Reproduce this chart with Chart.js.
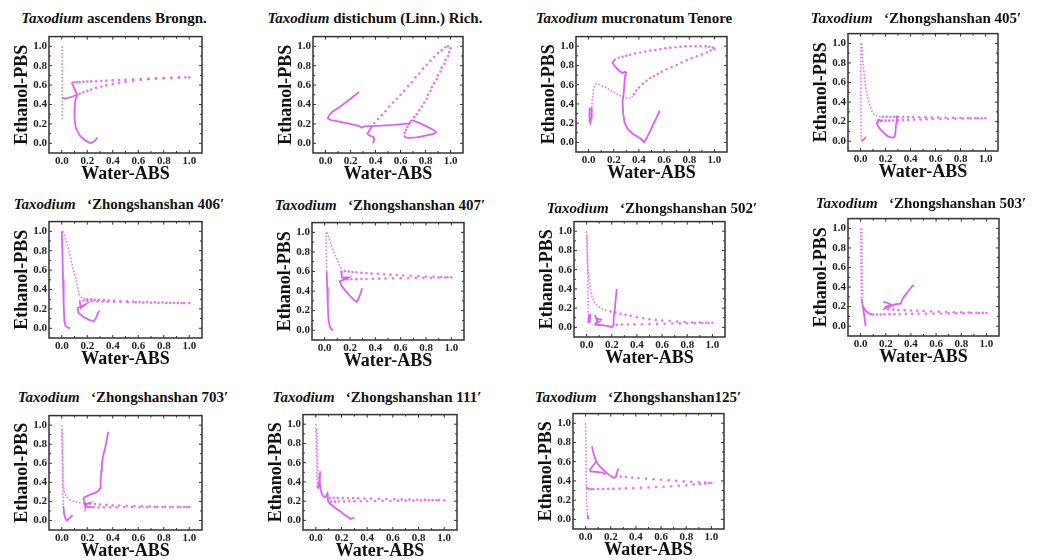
<!DOCTYPE html>
<html>
<head>
<meta charset="utf-8">
<script src="https://cdn.jsdelivr.net/npm/chart.js@4"></script>
<style>
  body { margin: 0; background: #fff; width: 1041px; height: 560px; position: relative; overflow: hidden; }
  .ttl { position: absolute; font: bold 15px 'Liberation Serif', serif; white-space: nowrap; color: #111; line-height: 16px; transform: translateX(-50%); }
  .ttl i { font-style: italic; }
</style>
</head>
<body>
<script>
// tick labels, both axes
const tickVals = [0.0, 0.2, 0.4, 0.6, 0.8, 1.0];
const minorVals = [0.1, 0.3, 0.5, 0.7, 0.9];

const titles = [
  ['Taxodium', ' ascendens Brongn.'],
  ['Taxodium', ' distichum (Linn.) Rich.'],
  ['Taxodium', ' mucronatum Tenore'],
  ['Taxodium', '\u2002 \u2018Zhongshanshan 405\u2032'],
  ['Taxodium', '\u2002 \u2018Zhongshanshan 406\u2032'],
  ['Taxodium', '\u2002 \u2018Zhongshanshan 407\u2032'],
  ['Taxodium', '\u2002 \u2018Zhongshanshan 502\u2032'],
  ['Taxodium', '\u2002 \u2018Zhongshanshan 503\u2032'],
  ['Taxodium', '\u2002 \u2018Zhongshanshan 703\u2032'],
  ['Taxodium', '\u2002 \u2018Zhongshanshan 111\u2032'],
  ['Taxodium', '\u2002 \u2018Zhongshanshan125\u2032']
];

// T. ascendens
const ascSolid = [
  [[0.005,0.47],[0.03,0.46],[0.08,0.48],[0.12,0.50],[0.10,0.56],[0.08,0.62],[0.09,0.63]],
  [[0.12,0.50],[0.105,0.43],[0.10,0.34],[0.10,0.26],[0.11,0.16],[0.14,0.08],[0.19,0.025],[0.23,0.0],[0.26,0.025],[0.28,0.06]]
];
const ascDotted = [[[0.003,1.0],[0.003,0.24]]];
const ascDots = [[0.10,0.63],[0.12,0.63],[0.14,0.632],[0.17,0.634],[0.20,0.636],[0.23,0.638],[0.27,0.64],[0.31,0.643],[0.35,0.646],[0.40,0.65],[0.45,0.653],[0.50,0.656],[0.56,0.66],[0.62,0.663],[0.68,0.667],[0.74,0.67],[0.80,0.673],[0.86,0.676],[0.92,0.678],[0.97,0.68],[1.0,0.68],
  [0.14,0.51],[0.17,0.525],[0.20,0.54],[0.23,0.555],[0.27,0.57],[0.31,0.585],[0.35,0.597],[0.40,0.61],[0.45,0.622],[0.50,0.633],[0.56,0.643],[0.62,0.652],[0.68,0.66],[0.74,0.666],[0.80,0.671],[0.86,0.675],[0.92,0.678]];

// T. distichum
const disSolid = [
  [[0.27,0.53],[0.20,0.46],[0.12,0.38],[0.05,0.32],[0.025,0.28],[0.018,0.26],[0.04,0.24],[0.10,0.225],[0.18,0.205],[0.265,0.18],[0.29,0.16],[0.31,0.175],[0.36,0.178],[0.45,0.182],[0.55,0.19],[0.63,0.2],[0.67,0.205],[0.69,0.24]],
  [[0.69,0.24],[0.74,0.215],[0.80,0.18],[0.86,0.14],[0.885,0.115],[0.87,0.10],[0.80,0.08],[0.73,0.062],[0.67,0.055],[0.64,0.06],[0.63,0.08]],
  [[0.37,0.17],[0.35,0.13],[0.335,0.10],[0.35,0.08],[0.385,0.065],[0.39,0.04],[0.38,0.0]]
];
const disDotted = [];
const disDots = [[0.39,0.21],[0.42,0.25],[0.45,0.29],[0.48,0.33],[0.51,0.38],[0.54,0.42],[0.57,0.46],[0.60,0.50],[0.63,0.54],[0.66,0.59],[0.69,0.63],[0.72,0.68],[0.75,0.72],[0.78,0.77],[0.81,0.81],[0.84,0.85],[0.87,0.89],[0.90,0.93],[0.93,0.96],[0.96,0.99],[0.98,1.0],
  [1.0,0.98],[0.99,0.94],[0.98,0.90],[0.96,0.86],[0.95,0.82],[0.93,0.78],[0.92,0.74],[0.90,0.70],[0.89,0.66],[0.87,0.62],[0.85,0.58],[0.84,0.54],[0.82,0.50],[0.81,0.46],[0.79,0.42],[0.77,0.38],[0.75,0.34],[0.73,0.30],[0.71,0.27],
  [0.635,0.11],[0.645,0.14],[0.655,0.17],[0.67,0.20]];

// T. mucronatum
const mucSolid = [
  [[0.01,0.36],[0.005,0.30],[0.01,0.22],[0.015,0.20],[0.02,0.25],[0.025,0.36]],
  [[0.215,0.87],[0.19,0.83],[0.21,0.79],[0.24,0.75],[0.27,0.72],[0.29,0.735],[0.30,0.72],[0.29,0.69],[0.285,0.62],[0.28,0.52],[0.27,0.42],[0.275,0.30],[0.285,0.21],[0.31,0.14],[0.35,0.09],[0.40,0.05],[0.43,0.02],[0.44,0.0],[0.45,0.02],[0.48,0.09],[0.51,0.18],[0.545,0.27],[0.565,0.33]]
];
const mucDotted = [
  [[0.025,0.36],[0.03,0.45],[0.04,0.56],[0.06,0.61],[0.09,0.60],[0.14,0.57],[0.19,0.53],[0.24,0.49],[0.29,0.465],[0.32,0.455],[0.34,0.46],[0.35,0.48]]
];
const mucDots = [[0.36,0.50],[0.38,0.54],[0.40,0.57],[0.43,0.61],[0.46,0.64],[0.49,0.67],[0.52,0.69],[0.55,0.71],[0.58,0.735],[0.62,0.76],[0.66,0.78],[0.70,0.805],[0.74,0.83],[0.78,0.855],[0.82,0.875],[0.86,0.895],[0.90,0.915],[0.94,0.935],[0.97,0.955],[1.0,0.97],
  [0.99,0.985],[0.96,0.995],[0.93,1.0],[0.89,1.0],[0.85,1.0],[0.81,1.0],[0.77,1.0],[0.73,0.995],[0.69,0.99],[0.65,0.985],[0.61,0.98],[0.57,0.97],[0.53,0.96],[0.49,0.955],[0.45,0.945],[0.41,0.935],[0.37,0.925],[0.33,0.91],[0.30,0.90],[0.27,0.89],[0.24,0.88]];

// Zhongshanshan 405
const z405Solid = [
  [[0.008,0.0],[0.02,0.01],[0.045,0.045]],
  [[0.15,0.20],[0.13,0.19],[0.135,0.16],[0.16,0.12],[0.19,0.08],[0.22,0.05],[0.26,0.035],[0.275,0.05],[0.28,0.1],[0.285,0.18],[0.29,0.26]],
  [[0.13,0.21],[0.15,0.22],[0.17,0.2]]
];
const z405Dotted = [
  [[0.003,1.0],[0.003,0.5],[0.005,0.1],[0.008,0.0]],
  [[0.01,1.0],[0.02,0.8],[0.035,0.62],[0.05,0.50],[0.065,0.41],[0.085,0.32],[0.11,0.27],[0.14,0.255],[0.16,0.25]]
];
const z405Dots = [[0.18,0.25],[0.21,0.25],[0.24,0.25],[0.27,0.25],[0.30,0.25],[0.34,0.248],[0.38,0.247],[0.42,0.246],[0.47,0.245],[0.52,0.244],[0.57,0.243],[0.62,0.242],[0.68,0.24],[0.74,0.239],[0.80,0.238],[0.86,0.237],[0.92,0.236],[0.97,0.235],
  [0.17,0.21],[0.20,0.21],[0.23,0.21],[0.26,0.212],[0.30,0.214],[0.34,0.216],[0.38,0.218],[0.43,0.22],[0.48,0.222],[0.53,0.224],[0.58,0.226],[0.64,0.228],[0.70,0.23],[0.76,0.231],[0.82,0.232],[0.88,0.233],[0.94,0.234],[1.0,0.235]];

// Zhongshanshan 406
const z406Solid = [
  [[0.0,1.0],[0.005,0.8],[0.01,0.5],[0.015,0.25],[0.02,0.08],[0.03,0.025],[0.045,0.008],[0.065,0.0]],
  [[0.14,0.29],[0.15,0.21],[0.19,0.25],[0.125,0.21],[0.13,0.16],[0.17,0.12],[0.21,0.09],[0.25,0.07],[0.27,0.11],[0.285,0.16],[0.295,0.18]]
];
const z406Dotted = [
  [[0.01,1.0],[0.04,0.88],[0.065,0.75],[0.09,0.61],[0.115,0.49],[0.13,0.39],[0.14,0.34],[0.16,0.31],[0.19,0.305]]
];
const z406Dots = [[0.20,0.30],[0.23,0.298],[0.26,0.295],[0.29,0.293],[0.33,0.29],[0.37,0.287],[0.41,0.284],[0.46,0.281],[0.51,0.278],[0.56,0.275],[0.61,0.272],[0.67,0.27],[0.73,0.268],[0.79,0.266],[0.85,0.264],[0.91,0.262],[0.96,0.261],[1.0,0.26],
  [0.17,0.285],[0.20,0.283],[0.24,0.281],[0.28,0.279],[0.32,0.277],[0.36,0.275],[0.41,0.273],[0.46,0.271],[0.52,0.269],[0.58,0.267],[0.64,0.265],[0.70,0.264],[0.76,0.263],[0.82,0.262],[0.88,0.261],[0.94,0.26]];

// Zhongshanshan 407
const z407Solid = [
  [[0.016,0.6],[0.02,0.44],[0.025,0.25],[0.03,0.11],[0.04,0.04],[0.05,0.015],[0.066,0.0]],
  [[0.13,0.61],[0.135,0.54],[0.19,0.54],[0.12,0.50],[0.13,0.46],[0.16,0.41],[0.2,0.35],[0.23,0.31],[0.255,0.29],[0.27,0.33],[0.285,0.38],[0.295,0.43]]
];
const z407Dotted = [
  [[0.02,1.0],[0.045,0.9],[0.07,0.8],[0.10,0.72],[0.12,0.65],[0.14,0.615]],
  [[0.01,1.0],[0.012,0.8],[0.016,0.6]]
];
const z407Dots = [[0.16,0.605],[0.19,0.60],[0.22,0.595],[0.25,0.592],[0.29,0.588],[0.33,0.584],[0.37,0.58],[0.42,0.576],[0.47,0.572],[0.52,0.568],[0.57,0.564],[0.62,0.56],[0.68,0.556],[0.74,0.552],[0.80,0.549],[0.86,0.546],[0.92,0.543],[0.97,0.541],[1.0,0.54],
  [0.15,0.52],[0.18,0.52],[0.21,0.521],[0.25,0.522],[0.29,0.523],[0.33,0.524],[0.38,0.525],[0.43,0.527],[0.48,0.528],[0.54,0.53],[0.60,0.532],[0.66,0.534],[0.72,0.535],[0.78,0.536],[0.84,0.537],[0.90,0.538],[0.95,0.539]];

// Zhongshanshan 502
const z502Solid = [
  [[0.015,0.04],[0.02,0.13],[0.025,0.05],[0.03,0.14]],
  [[0.065,0.13],[0.075,0.10],[0.085,0.05],[0.10,0.06],[0.115,0.08],[0.09,0.09],[0.07,0.03]],
  [[0.06,0.028],[0.10,0.025],[0.14,0.02],[0.18,0.01],[0.20,0.0],[0.21,0.02],[0.215,0.1],[0.225,0.2],[0.232,0.3],[0.24,0.4]]
];
const z502Dotted = [
  [[0.0,1.0],[0.003,0.85],[0.006,0.70],[0.01,0.6],[0.02,0.5],[0.03,0.4],[0.045,0.31],[0.065,0.255],[0.09,0.22],[0.12,0.195],[0.16,0.175]],
  [[0.005,0.95],[0.008,0.7],[0.01,0.45],[0.012,0.2],[0.015,0.05]]
];
const z502Dots = [[0.19,0.165],[0.23,0.155],[0.27,0.14],[0.31,0.13],[0.35,0.12],[0.40,0.105],[0.45,0.095],[0.50,0.085],[0.55,0.078],[0.60,0.072],[0.66,0.066],[0.72,0.06],[0.78,0.056],[0.84,0.052],[0.90,0.05],[0.95,0.048],[1.0,0.048],
  [0.24,0.028],[0.28,0.029],[0.33,0.03],[0.38,0.031],[0.44,0.032],[0.50,0.034],[0.56,0.036],[0.62,0.038],[0.68,0.04],[0.74,0.042],[0.80,0.043],[0.86,0.044],[0.92,0.045],[0.97,0.046]];

// Zhongshanshan 503
const z503Solid = [
  [[0.008,0.28],[0.015,0.22],[0.02,0.19],[0.03,0.1],[0.04,0.0]],
  [[0.02,0.20],[0.04,0.16],[0.065,0.13],[0.09,0.12],[0.11,0.12]],
  [[0.18,0.25],[0.21,0.24],[0.245,0.22],[0.2,0.2],[0.19,0.18],[0.23,0.2],[0.28,0.225],[0.32,0.23],[0.33,0.27],[0.35,0.31],[0.38,0.36],[0.41,0.41],[0.425,0.42]]
];
const z503Dotted = [
  [[0.0,1.0],[0.002,0.7],[0.004,0.45],[0.008,0.28]],
  [[0.01,1.0],[0.012,0.7],[0.015,0.45],[0.018,0.3]]
];
const z503Dots = [[0.13,0.12],[0.16,0.12],[0.19,0.121],[0.23,0.122],[0.27,0.123],[0.31,0.124],[0.36,0.125],[0.41,0.126],[0.46,0.127],[0.52,0.128],[0.58,0.129],[0.64,0.13],[0.70,0.131],[0.76,0.132],[0.82,0.133],[0.88,0.134],[0.94,0.135],[1.0,0.135],
  [0.22,0.172],[0.26,0.17],[0.30,0.167],[0.35,0.164],[0.40,0.161],[0.45,0.158],[0.50,0.155],[0.56,0.152],[0.62,0.149],[0.68,0.146],[0.74,0.143],[0.80,0.141],[0.86,0.139],[0.92,0.137],[0.97,0.136]];

// Zhongshanshan 703
const z703Solid = [
  [[0.012,0.15],[0.02,0.06],[0.03,0.015],[0.04,0.0],[0.055,0.015],[0.07,0.035],[0.085,0.055]],
  [[0.17,0.24],[0.175,0.2],[0.18,0.17],[0.21,0.18],[0.19,0.165],[0.185,0.145],[0.21,0.14],[0.24,0.14]],
  [[0.17,0.24],[0.19,0.25],[0.22,0.27],[0.26,0.29],[0.29,0.31],[0.30,0.34],[0.305,0.42],[0.31,0.52],[0.315,0.60],[0.325,0.68],[0.34,0.76],[0.355,0.86],[0.365,0.93]]
];
const z703Dotted = [
  [[0.0,1.0],[0.003,0.7],[0.006,0.45],[0.01,0.25],[0.012,0.15]],
  [[0.004,0.95],[0.008,0.7],[0.01,0.5],[0.012,0.4],[0.02,0.3],[0.035,0.25],[0.06,0.22],[0.10,0.2],[0.15,0.185]]
];
const z703Dots = [[0.18,0.178],[0.22,0.175],[0.26,0.172],[0.30,0.168],[0.35,0.164],[0.40,0.16],[0.45,0.157],[0.51,0.154],[0.57,0.151],[0.63,0.148],[0.69,0.146],[0.75,0.144],[0.81,0.143],[0.87,0.142],[0.93,0.141],[0.98,0.14],
  [0.25,0.138],[0.29,0.138],[0.33,0.139],[0.38,0.139],[0.43,0.14],[0.49,0.14],[0.55,0.14],[0.61,0.14],[0.67,0.14],[0.73,0.14],[0.79,0.14],[0.85,0.14],[0.91,0.14],[0.96,0.14],[1.0,0.14]];

// Zhongshanshan 111
const z111Solid = [
  [[0.012,0.36],[0.016,0.33],[0.025,0.4],[0.035,0.51],[0.03,0.42],[0.035,0.33],[0.048,0.27],[0.06,0.245],[0.075,0.24],[0.09,0.28],[0.093,0.24],[0.095,0.2],[0.11,0.175],[0.13,0.155],[0.16,0.12],[0.195,0.09],[0.22,0.06],[0.25,0.035],[0.27,0.015],[0.285,0.02],[0.30,0.03]]
];
const z111Dotted = [
  [[0.0,1.0],[0.002,0.8],[0.005,0.6],[0.008,0.45],[0.012,0.36]],
  [[0.008,0.95],[0.012,0.75],[0.015,0.55],[0.02,0.42]]
];
const z111Dots = [[0.11,0.235],[0.14,0.235],[0.17,0.234],[0.21,0.233],[0.25,0.232],[0.29,0.231],[0.33,0.23],[0.38,0.228],[0.43,0.226],[0.49,0.224],[0.55,0.222],[0.61,0.22],[0.67,0.218],[0.73,0.216],[0.79,0.214],[0.85,0.213],[0.91,0.212],[0.96,0.211],
  [0.12,0.195],[0.15,0.195],[0.18,0.196],[0.22,0.197],[0.26,0.198],[0.30,0.199],[0.35,0.2],[0.40,0.201],[0.46,0.202],[0.52,0.203],[0.58,0.204],[0.64,0.205],[0.70,0.206],[0.76,0.207],[0.82,0.208],[0.88,0.209],[0.94,0.21],[1.0,0.21]];

// Zhongshanshan 125
const z125Solid = [
  [[0.006,0.34],[0.012,0.325],[0.025,0.318],[0.05,0.315],[0.07,0.315]],
  [[0.015,0.05],[0.02,0.01],[0.03,0.005]],
  [[0.05,0.76],[0.06,0.7],[0.075,0.64],[0.085,0.6],[0.06,0.56],[0.035,0.52],[0.04,0.50],[0.08,0.495],[0.12,0.49],[0.16,0.47]],
  [[0.085,0.6],[0.12,0.54],[0.16,0.49],[0.2,0.45],[0.225,0.43],[0.24,0.44],[0.25,0.49],[0.26,0.53]]
];
const z125Dotted = [
  [[0.0,1.0],[0.002,0.8],[0.004,0.6],[0.005,0.45],[0.006,0.34]],
  [[0.006,0.32],[0.008,0.22],[0.011,0.12],[0.015,0.05]]
];
const z125Dots = [[0.10,0.315],[0.14,0.316],[0.18,0.317],[0.22,0.318],[0.27,0.32],[0.32,0.322],[0.38,0.325],[0.44,0.328],[0.50,0.332],[0.56,0.336],[0.62,0.34],[0.68,0.345],[0.74,0.35],[0.80,0.355],[0.86,0.362],[0.91,0.368],[0.95,0.374],[0.98,0.378],[1.0,0.38],
  [0.28,0.445],[0.32,0.44],[0.37,0.435],[0.42,0.43],[0.48,0.424],[0.54,0.418],[0.60,0.412],[0.66,0.406],[0.72,0.4],[0.78,0.395],[0.84,0.39],[0.90,0.386],[0.95,0.383]];

const panels = [
  [ascSolid, ascDotted, ascDots], [disSolid, disDotted, disDots], [mucSolid, mucDotted, mucDots],
  [z405Solid, z405Dotted, z405Dots], [z406Solid, z406Dotted, z406Dots], [z407Solid, z407Dotted, z407Dots],
  [z502Solid, z502Dotted, z502Dots], [z503Solid, z503Dotted, z503Dots], [z703Solid, z703Dotted, z703Dots],
  [z111Solid, z111Dotted, z111Dots], [z125Solid, z125Dotted, z125Dots]
];

// plot boxes [left, top, right, bottom] and title centre [x, y]
const boxes = [
  [49,32,202,153], [313,32,463,153], [576,32,727,152], [848,29,998,151],
  [49,217,202,338], [312,218,464,340], [574,217,725,337], [848,214,999,336],
  [49,411,202,530], [303,410,457,530], [573,409,724,529]
];
const titlePos = [[114,18],[375,18],[634,18],[916,18],[119,204],[380,205],[652,208],[921,203],[123,397],[377,397],[638,397]];

const FONT = "'Liberation Serif', 'Times New Roman', serif";
const WY = 37, HX = 32, PAD = 4;
const pts = arr => arr.map(p => ({x: p[0], y: p[1]}));

const frame = {
  id: 'frame',
  afterDatasetsDraw(chart) {
    const {ctx, chartArea: a, scales: {x, y}} = chart;
    ctx.save();
    ctx.strokeStyle = '#333';
    ctx.lineWidth = 1.5;
    ctx.strokeRect(a.left, a.top, a.right - a.left, a.bottom - a.top);
    ctx.lineWidth = 1;
    ctx.beginPath();
    const mark = (v, len) => {
      const px = x.getPixelForValue(v), py = y.getPixelForValue(v);
      ctx.moveTo(px, a.bottom); ctx.lineTo(px, a.bottom - len);
      ctx.moveTo(px, a.top); ctx.lineTo(px, a.top + len);
      ctx.moveTo(a.left, py); ctx.lineTo(a.left + len, py);
      ctx.moveTo(a.right, py); ctx.lineTo(a.right - len, py);
    };
    tickVals.forEach(v => mark(v, 3));
    minorVals.forEach(v => mark(v, 2));
    ctx.stroke();
    ctx.restore();
  }
};

const axisBase = (text) => ({
  type: 'linear',
  min: -0.1,
  max: 1.1,
  afterBuildTicks: s => { s.ticks = tickVals.map(v => ({value: v})); },
  grid: {display: false, drawTicks: false},
  border: {display: false},
  ticks: {
    color: '#222',
    autoSkip: false,
    maxRotation: 0,
    font: {family: FONT, weight: 'bold', size: 11},
    callback: v => v.toFixed(1)
  },
  title: {display: true, text: text, color: '#111', padding: 0, font: {family: FONT, weight: 'bold', size: 18}}
});

panels.forEach((p, i) => {
  const [l, t, r, b] = boxes[i];
  const w = r - l + WY + PAD, h = b - t + PAD + HX;
  const cv = document.createElement('canvas');
  cv.width = w; cv.height = h;
  cv.style.cssText = `position:absolute;left:${l - WY}px;top:${t - PAD}px;width:${w}px;height:${h}px`;
  document.body.appendChild(cv);

  const tt = document.createElement('div');
  tt.className = 'ttl';
  tt.style.left = titlePos[i][0] + 'px';
  tt.style.top = (titlePos[i][1] - 8) + 'px';
  tt.innerHTML = '<i>' + titles[i][0] + '</i>' + titles[i][1];
  document.body.appendChild(tt);

  const [solid, dotted, dots] = p;
  const datasets = [];
  solid.forEach(seg => datasets.push({
    data: pts(seg), showLine: true, borderColor: 'rgba(218,80,245,0.9)', borderWidth: 1.8, pointRadius: 0
  }));
  dotted.forEach(seg => datasets.push({
    data: pts(seg), showLine: true, borderColor: 'rgba(224,100,246,0.85)', borderWidth: 1.6, borderDash: [1.6, 1.8], pointRadius: 0
  }));
  datasets.push({
    data: pts(dots), showLine: false, pointRadius: 1.3, pointBorderWidth: 0, pointBackgroundColor: 'rgba(226,104,246,0.9)'
  });

  const xs = axisBase('Water-ABS');
  xs.afterFit = s => { s.height = HX; };
  xs.ticks.padding = 2;
  const ys = axisBase('Ethanol-PBS');
  ys.afterFit = s => { s.width = WY; };
  ys.ticks.padding = 2;

  new Chart(cv, {
    type: 'scatter',
    data: {datasets},
    options: {
      responsive: false,
      animation: false,
      layout: {padding: {left: 0, top: PAD, right: PAD, bottom: 0}},
      plugins: {legend: {display: false}, tooltip: {enabled: false}},
      scales: {x: xs, y: ys}
    },
    plugins: [frame]
  });
});
</script>
</body>
</html>
